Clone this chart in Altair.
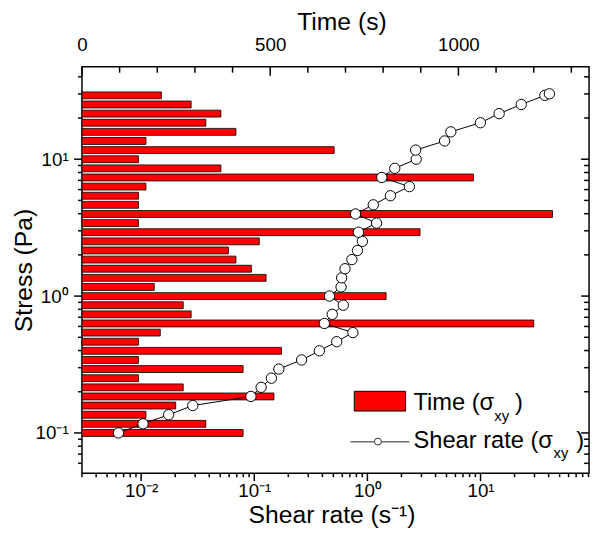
import altair as alt
import pandas as pd

# ---------------- data ----------------
stress = [0.1, 0.1166, 0.1359, 0.1585, 0.1848, 0.2154, 0.2512, 0.2929, 0.3415, 0.3981,
          0.4642, 0.5412, 0.631, 0.7356, 0.8577, 1.0, 1.166, 1.359, 1.585, 1.848,
          2.154, 2.512, 2.929, 3.415, 3.981, 4.642, 5.412, 6.31, 7.356, 8.577,
          10.0, 11.66, 13.59, 15.85, 18.48, 21.54, 25.12, 29.29]
time_s = [428, 329, 170, 249, 510, 269, 150, 428, 150, 530,
          150, 208, 1200, 290, 269, 808, 192, 489, 450, 409,
          389, 471, 898, 150, 1250, 150, 150, 170, 1040, 369,
          150, 670, 170, 409, 329, 369, 290, 211]

sr_stress = [0.1, 0.1166, 0.1359, 0.1585, 0.1848, 0.2154, 0.2512, 0.2929, 0.3415, 0.3981,
             0.4642, 0.5412, 0.631, 0.7356, 0.8577, 1.0, 1.166, 1.359, 1.585, 1.848,
             2.154, 2.512, 2.929, 3.415, 3.981, 4.642, 5.412, 6.31, 7.356, 8.577,
             10.0, 11.66, 13.59, 15.85, 18.48, 21.54, 25.12, 29.29, 30.05]
shear_rate = [0.0063, 0.0104, 0.0175, 0.0286, 0.0933, 0.115, 0.1416, 0.165, 0.262, 0.376,
              0.535, 0.744, 0.416, 0.489, 0.612, 0.462, 0.585, 0.592, 0.634, 0.729,
              0.817, 0.903, 0.834, 1.205, 0.785, 1.127, 1.597, 2.35, 1.34, 1.745,
              2.70, 2.67, 4.81, 5.46, 9.97, 14.6, 22.9, 37.0, 40.6]

# axis ticks
y_major = [0.1, 1, 10]
y_minor = [0.06, 0.07, 0.08, 0.09, 0.2, 0.3, 0.4, 0.5, 0.6, 0.7, 0.8, 0.9,
           2, 3, 4, 5, 6, 7, 8, 9, 20, 30, 40]
x_major = [0.01, 0.1, 1, 10]
x_minor = [0.003, 0.004, 0.005, 0.006, 0.007, 0.008, 0.009,
           0.02, 0.03, 0.04, 0.05, 0.06, 0.07, 0.08, 0.09,
           0.2, 0.3, 0.4, 0.5, 0.6, 0.7, 0.8, 0.9,
           2, 3, 4, 5, 6, 7, 8, 9, 20, 30, 40, 50, 60, 70, 80, 90]
t_major = [0, 500, 1000]
t_minor = [100, 200, 300, 400, 600, 700, 800, 900, 1100, 1200, 1300]

legend_time = ["Time (σ", "xy", ")"]
legend_rate = ["Shear rate (σ", "xy", ")"]

# ---------------- layout ----------------
W, H = 514, 412
FONT = "Liberation Sans"
ys = alt.Scale(type="log", domain=[0.0552, 43.6])
ts = alt.Scale(type="linear", domain=[0, 1347], nice=False, zero=False)
ss = alt.Scale(type="log", domain=[0.003, 91])

bars_df = pd.DataFrame({"stress": stress, "time": time_s})
sr_df = pd.DataFrame({"stress": sr_stress, "rate": shear_rate, "i": list(range(len(shear_rate)))})

xlab = ("datum.value == 0.01 ? '10⁻²' : datum.value == 0.1 ? '10⁻¹' : "
        "datum.value == 1 ? '10⁰' : datum.value == 10 ? '10¹' : ''")
ylab = "datum.value == 0.1 ? '10⁻¹' : datum.value == 1 ? '10⁰' : '10¹'"

bars = alt.Chart(bars_df).mark_bar(
    orient="horizontal", size=7, color="#ff0000", stroke="#000000", strokeWidth=0.8
).encode(
    x=alt.X("time:Q", scale=ts, stack=None,
            axis=alt.Axis(orient="top", values=t_major, format="d", ticks=False, domain=False,
                          grid=False, labelPadding=12, labelFlush=False, labelOverlap=False,
                          title="Time (s)", titleX=263, titleY=-38, titleBaseline="alphabetic")),
    y=alt.Y("stress:Q", scale=ys,
            axis=alt.Axis(orient="left", values=y_major, labelExpr=ylab, ticks=False,
                          domain=False, grid=False, labelPadding=14, labelOverlap=False,
                          labelFlush=False, title="Stress (Pa)", titleX=-46)),
)

line = alt.Chart(sr_df).mark_line(color="black", strokeWidth=1).encode(
    x=alt.X("rate:Q", scale=ss,
            axis=alt.Axis(orient="bottom", values=x_major, labelExpr=xlab, ticks=False,
                          domain=False, grid=False, labelPadding=9, labelFlush=False,
                          labelOverlap=False, title="Shear rate (s⁻¹)", titleX=253, titleY=30)),
    y=alt.Y("stress:Q", scale=ys, axis=None),
    order="i:Q",
)

pts = alt.Chart(sr_df).mark_point(
    shape="circle", filled=True, fill="white", stroke="black", strokeWidth=1, size=110, opacity=1
).encode(
    x=alt.X("rate:Q", scale=ss, axis=None),
    y=alt.Y("stress:Q", scale=ys, axis=None),
)


def xticks(vals, scale, y0, y1):
    return alt.Chart(pd.DataFrame({"v": vals})).mark_rule(color="black", strokeWidth=1.5).encode(
        x=alt.X("v:Q", scale=scale, axis=None), y=alt.value(y0), y2=alt.value(y1))


def yticks(vals, x0, x1):
    return alt.Chart(pd.DataFrame({"v": vals})).mark_rule(color="black", strokeWidth=1.5).encode(
        y=alt.Y("v:Q", scale=ys, axis=None), x=alt.value(x0), x2=alt.value(x1))


tick_layers = [
    xticks(x_major, ss, H, H + 8), xticks(x_minor, ss, H, H + 4),
    xticks(t_major, ts, 0, 9), xticks(t_minor, ts, 0, 6),
    yticks(y_major, -8, 0), yticks(y_minor, -4, 0),
    yticks(y_major, W - 8, W), yticks(y_minor, W - 5, W),
]

one = pd.DataFrame({"k": [0]})
leg_rect = alt.Chart(one).mark_rect(fill="#ff0000", stroke="black", strokeWidth=1).encode(
    x=alt.value(276), x2=alt.value(328), y=alt.value(329), y2=alt.value(349))
leg_line = alt.Chart(one).mark_rule(color="#6f6f6f", strokeWidth=1.5).encode(
    x=alt.value(272), x2=alt.value(332), y=alt.value(380))
leg_pt = alt.Chart(one).mark_point(shape="circle", filled=True, fill="white", stroke="#333333",
                                   strokeWidth=1, size=50, opacity=1).encode(
    x=alt.value(300), y=alt.value(380))


def txt(s, x, y, fs):
    return alt.Chart(one).mark_text(align="left", baseline="alphabetic", font=FONT,
                                    fontSize=fs, color="black").encode(
        x=alt.value(x), y=alt.value(y), text=alt.value(s))


leg_texts = [
    txt(legend_time[0], 336, 348, 24), txt(legend_time[1], 418, 359, 15), txt(legend_time[2], 439, 348, 24),
    txt(legend_rate[0], 336, 386, 24), txt(legend_rate[1], 478, 397, 15), txt(legend_rate[2], 501, 386, 24),
]

chart = alt.layer(
    bars, line, pts, *tick_layers, leg_rect, leg_line, leg_pt, *leg_texts
).resolve_scale(
    x="independent"
).resolve_axis(
    x="independent", y="independent"
).properties(
    width=W, height=H,
    padding={"left": 75, "top": 56, "right": 3, "bottom": 54},
    autosize=alt.AutoSizeParams(type="none"),
).configure_view(
    stroke="black", strokeWidth=1.5
).configure_axis(
    labelFont=FONT, titleFont=FONT, labelFontSize=19, titleFontSize=25,
    labelColor="black", titleColor="black", titleFontWeight="normal",
)

chart.save("out.html", embed_options={"renderer": "svg", "actions": False})
